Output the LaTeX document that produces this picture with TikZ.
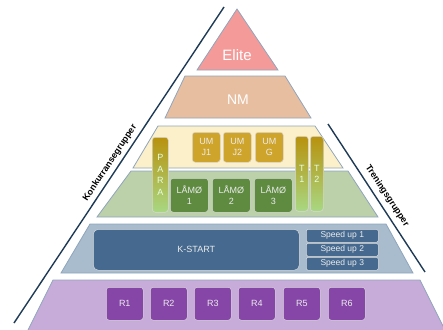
\documentclass[tikz,border=0pt]{standalone}
\usepackage{fontspec}
\setmainfont{Liberation Sans}
\definecolor{eliteC}{HTML}{F49B9A}
\definecolor{nmC}{HTML}{E8BEA0}
\definecolor{creamC}{HTML}{FCF0CA}
\definecolor{greenC}{HTML}{BCD0A9}
\definecolor{blueC}{HTML}{A8BCCE}
\definecolor{purpleC}{HTML}{C7ABD9}
\definecolor{umC}{HTML}{CFA42B}
\definecolor{lamoC}{HTML}{5F8B41}
\definecolor{kstartC}{HTML}{466A8F}
\definecolor{rC}{HTML}{8646A8}
\definecolor{navyC}{HTML}{1E3A56}
\definecolor{edgeC}{HTML}{8FA5BC}
\definecolor{goldTop}{HTML}{B8920E}
\definecolor{oliveMid}{HTML}{86AE3C}
\definecolor{lightGreen}{HTML}{A8D883}
\tikzset{
  layer/.style={draw=edgeC, line width=0.8pt},
  layertext/.style={text=white, font=\fontsize{14}{16}\selectfont},
  box/.style={rounded corners=3pt, draw=white!85!black, line width=0.5pt,
    text=white!92!black, inner sep=0pt, anchor=north west, align=center,
    font=\fontsize{9}{11}\selectfont},
  umbox/.style={box, fill=umC, minimum width=28pt, minimum height=30pt},
  lamobox/.style={box, fill=lamoC, minimum width=38pt, minimum height=34pt},
  rbox/.style={box, fill=rC, minimum width=37pt, minimum height=33pt},
  speedbox/.style={box, rounded corners=1.5pt, fill=kstartC, minimum width=72pt, minimum height=13pt, font=\fontsize{8.5}{10}\selectfont},
  barbox/.style={box, top color=goldTop, middle color=oliveMid, bottom color=lightGreen,
    font=\fontsize{9}{11.5}\selectfont, text=white!90!green},
  sideline/.style={draw=navyC, line width=1.4pt},
  sidetext/.style={font=\fontsize{9}{10}\selectfont\bfseries, text=black}
}
\begin{document}
\begin{tikzpicture}[x=1pt,y=-1pt]
\useasboundingbox (0,0) rectangle (443,329);
\begin{scope}
\clip (0,0) rectangle (443,329);
% layers
\draw[layer, fill=eliteC] (237,9) -- (278,70) -- (197,70) -- cycle;
\draw[layer, fill=nmC] (185,76) -- (285,76) -- (311,118) -- (165,118) -- cycle;
\draw[layer, fill=creamC] (158,126) -- (315,126) -- (343,168) -- (133,168) -- cycle;
\draw[layer, fill=greenC] (131,171) -- (348,171) -- (378,217) -- (97,217) -- cycle;
\draw[layer, fill=blueC] (90,224) -- (386,224) -- (413,273) -- (61,273) -- cycle;
\draw[layer, fill=purpleC] (53,280) -- (420,280) -- (450,340) -- (23,340) -- cycle;
\end{scope}
\node[layertext, font=\fontsize{15}{17}\selectfont] (elite) at (237,55) {Elite};
\node[layertext] (nm) at (238,100) {NM};
% UM boxes
\node[umbox] (umj1) at (192,132) {UM\\J1};
\node[umbox] (umj2) at (223,132) {UM\\J2};
\node[umbox] (umg) at (255,132) {UM\\G};
% bars
\node[barbox, minimum width=16pt, minimum height=75pt] (para) at (152,137) {P\\A\\R\\A};
\node[barbox, minimum width=13pt, minimum height=75pt] (t1) at (295,136) {T\\1};
\node[barbox, minimum width=13pt, minimum height=75pt] (t2) at (310,136) {T\\2};
% LAMO boxes
\node[lamobox] (lamo1) at (170,178) {LÅMØ\\1};
\node[lamobox] (lamo2) at (212,178) {LÅMØ\\2};
\node[lamobox] (lamo3) at (254,178) {LÅMØ\\3};
% K-START
\node[box, fill=kstartC, rounded corners=5pt, minimum width=206pt, minimum height=41pt] (kstart) at (93,229) {K-START};
\node[speedbox] (sp1) at (306,229) {Speed up 1};
\node[speedbox] (sp2) at (306,243) {Speed up 2};
\node[speedbox] (sp3) at (306,257) {Speed up 3};
% R boxes
\node[rbox] (r1) at (106,287) {R1};
\node[rbox] (r2) at (150,287) {R2};
\node[rbox] (r3) at (194,287) {R3};
\node[rbox] (r4) at (238,287) {R4};
\node[rbox] (r5) at (283,287) {R5};
\node[rbox] (r6) at (328,287) {R6};
% side lines
\coordinate (ltop) at (224,7);
\coordinate (lbot) at (14,323);
\coordinate (rtop) at (328,124);
\coordinate (rbot) at (425,272);
\draw[sideline] (ltop) -- (lbot);
\draw[sideline] (rtop) -- (rbot);
\node[sidetext, rotate=56.4] (konk) at (110,163) {Konkurransegrupper};
\node[sidetext, rotate=-56.4] (tren) at (387,196) {Treningsgrupper};
\end{tikzpicture}
\end{document}
